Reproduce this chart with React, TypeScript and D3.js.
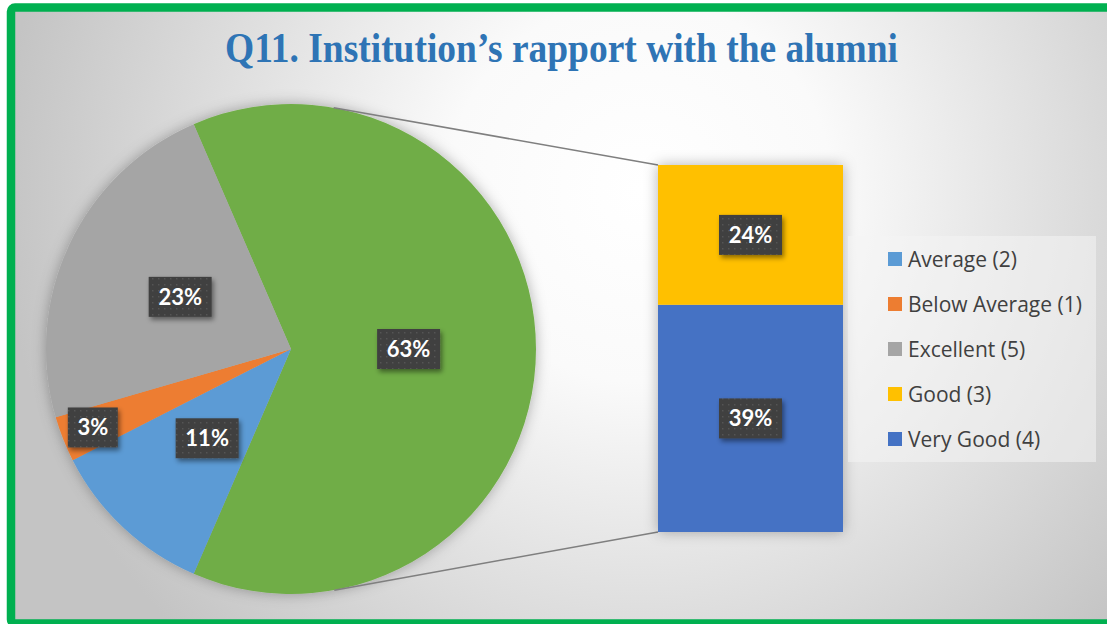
import React from "react";
import * as d3 from "d3";

const pieCategories = ["Other", "Average (2)", "Below Average (1)", "Excellent (5)"];
const pieValues = [63, 11, 3, 23];
const pieColors = ["#70AD47", "#5B9BD5", "#ED7D31", "#A5A5A5"];

const barCategories = ["Very Good (4)", "Good (3)"];
const barValues = [39, 24];
const barColors = ["#4472C4", "#FFC000"];

const legendLabels = ["Average (2)", "Below Average (1)", "Excellent (5)", "Good (3)", "Very Good (4)"];
const legendColors = ["#5B9BD5", "#ED7D31", "#A5A5A5", "#FFC000", "#4472C4"];

const W = 1107;
const H = 624;

export default function App() {
  const cx = 291, cy = 349, r = 245;
  const total = d3.sum(pieValues);
  const otherSpan = (pieValues[0] / total) * Math.PI * 2;
  const start = Math.PI / 2 - otherSpan / 2;
  const pie = d3.pie<number>().sort(null).value((d) => d).startAngle(start).endAngle(start + Math.PI * 2);
  const arcs = pie(pieValues);
  const arcGen = d3.arc<d3.PieArcDatum<number>>().innerRadius(0).outerRadius(r);

  const barX0 = 658, barX1 = 843;
  const y = d3.scaleLinear().domain([0, d3.sum(barValues)]).range([532, 165]);
  let acc = 0;
  const segs = barValues.map((v, i) => {
    const s = { y0: y(acc), y1: y(acc + v), v, color: barColors[i] };
    acc += v;
    return s;
  });

  const tangent = (px: number, py: number, upper: boolean) => {
    const dx = px - cx, dy = py - cy;
    const d = Math.hypot(dx, dy);
    const phi = Math.atan2(dy, dx);
    const alpha = Math.acos(r / d);
    const a = upper ? phi - alpha : phi + alpha;
    return [cx + r * Math.cos(a), cy + r * Math.sin(a)];
  };
  const t1 = tangent(barX0, y(d3.sum(barValues)), true);
  const t2 = tangent(barX0, y(0), false);

  const labelRatio = [0.48, 0.5, 0.87, 0.5];

  const Label = ({ x, yy, text }: { x: number; yy: number; text: string }) => {
    const w = text.length === 2 ? 50 : 63;
    const h = 40;
    return (
      <g>
        <rect x={x - w / 2} y={yy - h / 2} width={w} height={h} fill="url(#dots)" filter="url(#lblShadow)" />
        <text x={x} y={yy} dy="0.36em" textAnchor="middle" fill="#fff" fontFamily="Lato, 'Open Sans', sans-serif" fontWeight={700} fontSize={22}>
          {text}
        </text>
      </g>
    );
  };

  return (
    <svg width={W} height={H} style={{ position: "absolute", left: 0, top: 0 }}>
      <defs>
        <radialGradient id="bg" gradientUnits="userSpaceOnUse" cx={640} cy={190} r={640}>
          <stop offset="0" stopColor="#ffffff" />
          <stop offset="0.3" stopColor="#fafafa" />
          <stop offset="1" stopColor="#c4c4c4" />
        </radialGradient>
        <pattern id="dots" width={6} height={6} patternUnits="userSpaceOnUse">
          <rect width={6} height={6} fill="#404040" />
          <rect x={2} y={2} width={1.5} height={1.5} fill="#545454" />
        </pattern>
        <filter id="shadow" x="-20%" y="-20%" width="140%" height="140%">
          <feDropShadow dx={0} dy={0} stdDeviation={7} floodColor="#000" floodOpacity={0.3} />
        </filter>
        <filter id="lblShadow" x="-30%" y="-30%" width="160%" height="170%">
          <feDropShadow dx={2} dy={3} stdDeviation={2.5} floodColor="#000" floodOpacity={0.45} />
        </filter>
      </defs>
      <rect x={0} y={0} width={W} height={H} fill="#fff" />
      <rect x={11} y={7.5} width={1110} height={616} rx={4} fill="url(#bg)" stroke="#00B050" strokeWidth={8.5} />

      <text x={561.5} y={62} textAnchor="middle" fill="#2E74B5" fontFamily="'Liberation Serif', 'Times New Roman', serif" fontWeight={700} fontSize={42} textLength={673} lengthAdjust="spacingAndGlyphs">
        Q11. Institution’s rapport with the alumni
      </text>

      <g transform={`translate(${cx},${cy})`} filter="url(#shadow)">
        {arcs.map((a, i) => (
          <path key={pieCategories[i]} d={arcGen(a) || ""} fill={pieColors[i]} />
        ))}
      </g>

      <line x1={t1[0]} y1={t1[1]} x2={barX0} y2={y(d3.sum(barValues))} stroke="#7f7f7f" strokeWidth={1.5} />
      <line x1={t2[0]} y1={t2[1]} x2={barX0} y2={y(0)} stroke="#7f7f7f" strokeWidth={1.5} />

      <g filter="url(#shadow)">
        {segs.map((s, i) => (
          <rect key={barCategories[i]} x={barX0} y={s.y1} width={barX1 - barX0} height={s.y0 - s.y1} fill={s.color} />
        ))}
      </g>

      {arcs.map((a, i) => {
        const mid = (a.startAngle + a.endAngle) / 2;
        const rr = r * labelRatio[i];
        const lx = cx + rr * Math.sin(mid);
        const ly = cy - rr * Math.cos(mid);
        return <Label key={"l" + i} x={lx} yy={ly} text={`${pieValues[i]}%`} />;
      })}
      {segs.map((s, i) => (
        <Label key={"b" + i} x={(barX0 + barX1) / 2} yy={(s.y0 + s.y1) / 2} text={`${s.v}%`} />
      ))}

      <rect x={848} y={236} width={248} height={226} fill="#f4f4f4" opacity={0.55} />
      {legendLabels.map((l, i) => (
        <g key={l} transform={`translate(888,${259 + i * 45})`}>
          <rect x={0} y={-7} width={14} height={14} fill={legendColors[i]} />
          <text x={20} y={0} dy="0.36em" fill="#404040" fontFamily="'Open Sans', Lato, sans-serif" fontSize={21}>
            {l}
          </text>
        </g>
      ))}
    </svg>
  );
}
